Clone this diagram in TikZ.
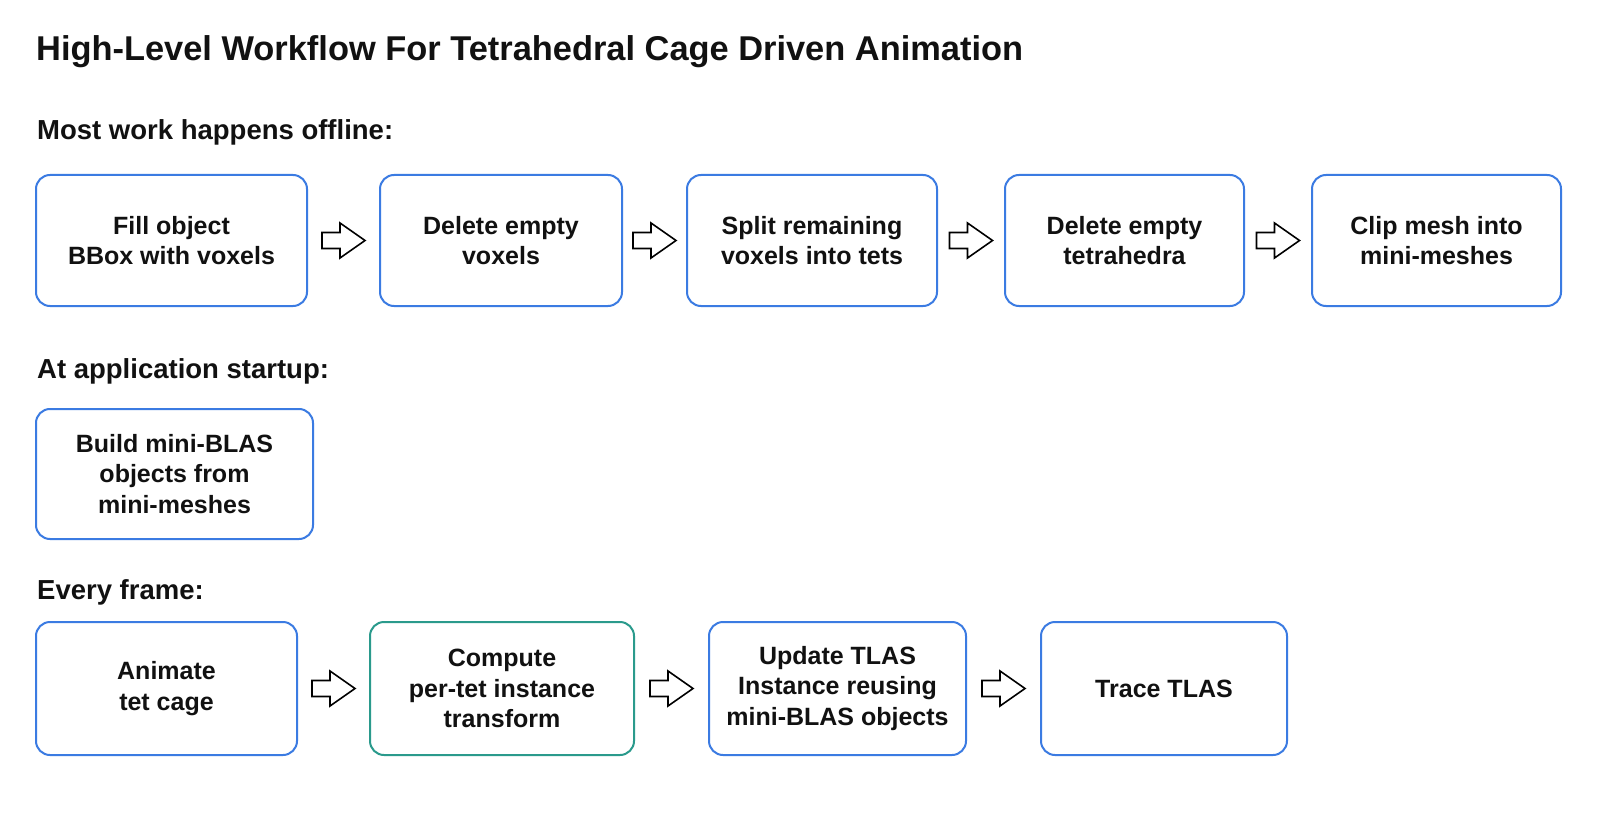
\documentclass[tikz,border=0pt]{standalone}
\usepackage{fontspec}
\setmainfont{Liberation Sans}
\usetikzlibrary{calc}
\definecolor{boxblue}{HTML}{3B7BE2}
\definecolor{boxteal}{HTML}{2A9A8C}
\definecolor{ink}{HTML}{111111}
\tikzset{
  stepbox/.style={draw=boxblue, line width=2pt, rounded corners=14pt, align=center,
    text=ink, font=\bfseries\fontsize{25}{30.6}\selectfont, inner sep=0pt},
  tealbox/.style={stepbox, draw=boxteal},
  heading/.style={anchor=base west, text=ink, inner sep=0pt, font=\bfseries\fontsize{27.5}{32}\selectfont},
  titletext/.style={anchor=base west, text=ink, inner sep=0pt, font=\bfseries\fontsize{34.4}{40}\selectfont},
  arr/.style={draw=black, line width=1.6pt, line join=miter, fill=white}
}
\newcommand\blockarr[2]{%
  \path ($(#1.east)!0.5!(#2.west)$) coordinate (m#1);
  \draw[arr] ([shift={(-21.5,8)}]m#1) -- ++(18,0) -- ++(0,9.5) -- ++(25,-17.5)
     -- ++(-25,-17.5) -- ++(0,9.5) -- ++(-18,0) -- cycle;}
\begin{document}
\begin{tikzpicture}[x=1pt,y=-1pt]
\useasboundingbox[fill=white] (0,0) rectangle (1600,821);
\node[titletext] (title) at (36,61) {High-Level Workflow For Tetrahedral Cage Driven Animation};
\node[heading] (h1) at (37,140) {Most work happens offline:};
\node[heading] (h2) at (37,378) {At application startup:};
\node[heading] (h3) at (37,599) {Every frame:};
% row 1
\node[stepbox, minimum width=271pt, minimum height=131pt] (b1) at (171.5,240.5) {Fill object\\BBox with voxels};
\node[stepbox, minimum width=242pt, minimum height=131pt] (b2) at (501,240.5) {Delete empty\\voxels};
\node[stepbox, minimum width=250pt, minimum height=131pt] (b3) at (812,240.5) {Split remaining\\voxels into tets};
\node[stepbox, minimum width=239pt, minimum height=131pt] (b4) at (1124.5,240.5) {Delete empty\\tetrahedra};
\node[stepbox, minimum width=249pt, minimum height=131pt] (b5) at (1436.5,240.5) {Clip mesh into\\mini-meshes};
% row 2
\node[stepbox, minimum width=277pt, minimum height=130pt] (s1) at (174.5,474) {Build mini-BLAS\\objects from\\mini-meshes};
% row 3
\node[stepbox, minimum width=261pt, minimum height=133pt] (c1) at (166.5,688.5) {Animate\\tet cage};
\node[tealbox, minimum width=264pt, minimum height=133pt] (c2) at (502,688.5) {Compute\\per-tet instance\\transform};
\node[stepbox, minimum width=257pt, minimum height=133pt] (c3) at (837.5,688.5) {Update TLAS\\Instance reusing\\mini-BLAS objects};
\node[stepbox, minimum width=246pt, minimum height=133pt] (c4) at (1164,688.5) {Trace TLAS};
% arrows
\blockarr{b1}{b2}
\blockarr{b2}{b3}
\blockarr{b3}{b4}
\blockarr{b4}{b5}
\blockarr{c1}{c2}
\blockarr{c2}{c3}
\blockarr{c3}{c4}
\end{tikzpicture}
\end{document}
